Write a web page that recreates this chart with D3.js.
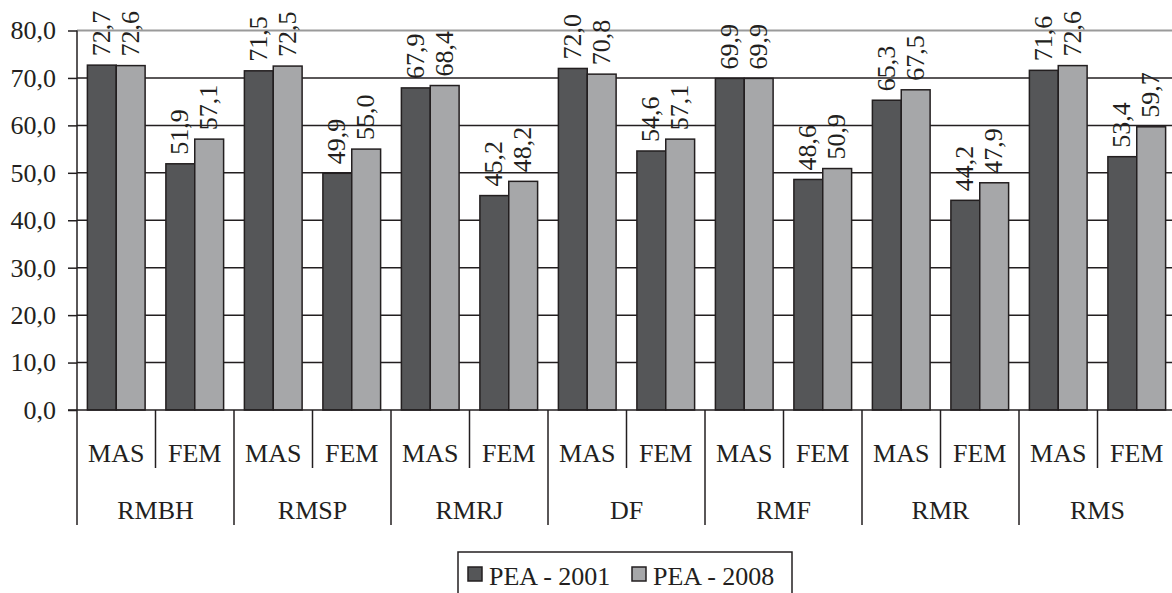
<!DOCTYPE html>
<html><head><meta charset="utf-8">
<script src="https://cdn.jsdelivr.net/npm/d3@7"></script>
<style>
html,body{margin:0;padding:0;background:#fff;}
svg{display:block;}
text{font-family:"Liberation Serif","Times New Roman",serif;fill:#231f20;}
</style></head>
<body>
<svg id="c" width="1172" height="593"></svg>
<script>
const regions = ["RMBH","RMSP","RMRJ","DF","RMF","RMR","RMS"];
const sexes = ["MAS","FEM"];
const seriesNames = ["PEA - 2001","PEA - 2008"];
const pea2001 = [72.7,51.9,71.5,49.9,67.9,45.2,72.0,54.6,69.9,48.6,65.3,44.2,71.6,53.4];
const pea2008 = [72.6,57.1,72.5,55.0,68.4,48.2,70.8,57.1,69.9,50.9,67.5,47.9,72.6,59.7];
const yTicks = [0,10,20,30,40,50,60,70,80];
const colors = ["#555658","#a6a7a9"];

const svg = d3.select("#c");
const x0 = 77, x1 = 1176, yBase = 410, yTop = 30.5;
const cats = [];
regions.forEach((r,i)=>sexes.forEach((s,j)=>cats.push({key:r+"|"+s, region:r, sex:s, idx:i*2+j})));
const x = d3.scaleBand().domain(cats.map(d=>d.key)).range([x0,x1]).padding(0);
const xs = d3.scaleBand().domain([0,1]).range([0,x.bandwidth()]).paddingOuter(0.36).paddingInner(0);
const y = d3.scaleLinear().domain([0,80]).range([yBase,yTop]);
const fmt = v => d3.format(".1f")(v).replace(".",",");

// gridlines
const grid = svg.append("g");
grid.selectAll("line").data(yTicks.filter(t=>t>0)).join("line")
  .attr("x1",x0).attr("x2",1172).attr("y1",d=>y(d)).attr("y2",d=>y(d))
  .attr("stroke",d=>d===80?"#9a9a9a":"#231f20").attr("stroke-width",d=>d===80?2:1.5);

// y axis
const yAxis = d3.axisLeft(y).tickValues(yTicks).tickSize(9).tickPadding(12).tickFormat(fmt);
const ya = svg.append("g").attr("transform",`translate(${x0},0)`).call(yAxis);
ya.select(".domain").remove();
ya.selectAll(".tick line").attr("stroke","#231f20").attr("stroke-width",1.5);
ya.selectAll(".tick text").attr("font-size",26).attr("font-family","Liberation Serif").attr("fill","#231f20");
svg.append("line").attr("x1",x0).attr("x2",x0).attr("y1",yTop).attr("y2",525).attr("stroke","#231f20").attr("stroke-width",1.5);

// bars
const series = [pea2001,pea2008];
series.forEach((vals,si)=>{
  svg.append("g").selectAll("rect").data(cats).join("rect")
    .attr("x",d=>x(d.key)+xs(si))
    .attr("width",xs.bandwidth())
    .attr("y",d=>y(vals[d.idx]))
    .attr("height",d=>yBase-y(vals[d.idx]))
    .attr("fill",colors[si]).attr("stroke","#231f20").attr("stroke-width",1.5);
});

// x axis line
svg.append("line").attr("x1",68).attr("x2",1172).attr("y1",yBase).attr("y2",yBase).attr("stroke","#231f20").attr("stroke-width",1.5);

// separators
const sep = svg.append("g");
cats.forEach(d=>{
  if(d.sex==="FEM"){
    sep.append("line").attr("x1",x(d.key)).attr("x2",x(d.key)).attr("y1",yBase).attr("y2",468).attr("stroke","#231f20").attr("stroke-width",1.5);
  }
});
regions.forEach((r,i)=>{
  if(i===0) return;
  const xx = x(r+"|MAS");
  sep.append("line").attr("x1",xx).attr("x2",xx).attr("y1",yBase).attr("y2",525).attr("stroke","#231f20").attr("stroke-width",1.5);
});

// category labels
svg.append("g").selectAll("text").data(cats).join("text")
  .attr("x",d=>x(d.key)+x.bandwidth()/2).attr("y",462)
  .attr("text-anchor","middle").attr("font-size",26).text(d=>d.sex);
svg.append("g").selectAll("text").data(regions).join("text")
  .attr("x",r=>x(r+"|MAS")+x.bandwidth()).attr("y",519)
  .attr("text-anchor","middle").attr("font-size",26).text(r=>r);

// data labels
series.forEach((vals,si)=>{
  svg.append("g").selectAll("text").data(cats).join("text")
    .attr("transform",d=>`translate(${x(d.key)+xs(si)+xs.bandwidth()/2 - 1},${y(vals[d.idx])-9}) rotate(-90)`)
    .attr("dy","0.35em").attr("font-size",26).text(d=>fmt(vals[d.idx]));
});

// legend
const lg = svg.append("g");
lg.append("rect").attr("x",458).attr("y",552).attr("width",334).attr("height",60).attr("fill","#fff").attr("stroke","#231f20").attr("stroke-width",1.5);
const lx = [468,632];
seriesNames.forEach((n,i)=>{
  lg.append("rect").attr("x",lx[i]).attr("y",567).attr("width",14).attr("height",14).attr("fill",colors[i]).attr("stroke","#231f20").attr("stroke-width",1.5);
  lg.append("text").attr("x",lx[i]+21).attr("y",585).attr("font-size",26).text(n);
});
</script>
</body></html>
